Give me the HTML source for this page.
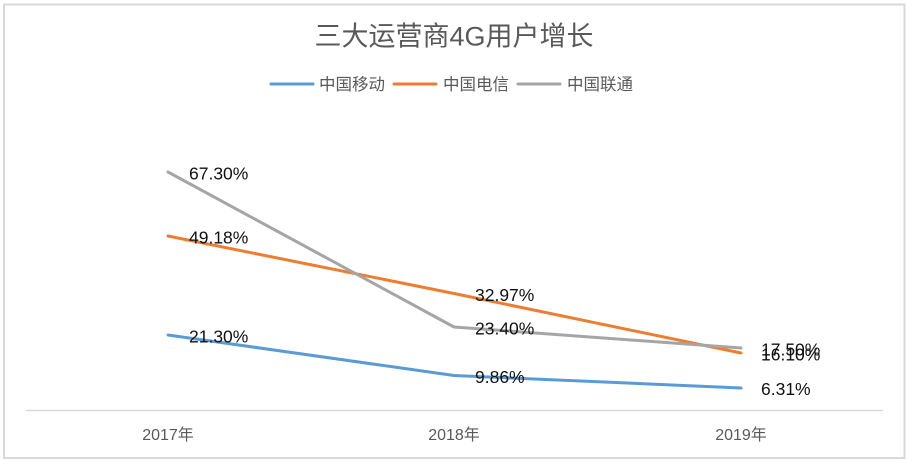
<!DOCTYPE html>
<html>
<head>
<meta charset="utf-8">
<style>
  html,body{margin:0;padding:0;background:#fff;}
  body{width:915px;height:467px;overflow:hidden;}
  svg{display:block;}
  text{font-family:"Liberation Sans","Noto Sans CJK SC",sans-serif;}
</style>
</head>
<body>
<svg width="915" height="467" viewBox="0 0 915 467" xmlns="http://www.w3.org/2000/svg">
  <rect x="0" y="0" width="915" height="467" fill="#fff"/>
  <!-- chart border -->
  <rect x="4" y="4.5" width="900.5" height="453.5" fill="none" stroke="#d9d9d9" stroke-width="2"/>

  <!-- title -->
  <text x="454" y="45.5" text-anchor="middle" font-size="27" fill="#595959">三大运营商4G用户增长</text>

  <!-- legend -->
  <line x1="271" y1="84" x2="313" y2="84" stroke="#5b9bd5" stroke-width="3" stroke-linecap="round"/>
  <text x="319" y="90" font-size="16.5" fill="#595959">中国移动</text>
  <line x1="394" y1="84" x2="436" y2="84" stroke="#ed7d31" stroke-width="3" stroke-linecap="round"/>
  <text x="443" y="90" font-size="16.5" fill="#595959">中国电信</text>
  <line x1="518" y1="84" x2="560" y2="84" stroke="#a5a5a5" stroke-width="3" stroke-linecap="round"/>
  <text x="567" y="90" font-size="16.5" fill="#595959">中国联通</text>

  <!-- axis -->
  <line x1="26" y1="410.5" x2="883" y2="410.5" stroke="#d9d9d9" stroke-width="1.5"/>
  <text x="168" y="440" text-anchor="middle" font-size="16" fill="#595959">2017年</text>
  <text x="454" y="440" text-anchor="middle" font-size="16" fill="#595959">2018年</text>
  <text x="741" y="440" text-anchor="middle" font-size="16" fill="#595959">2019年</text>

  <!-- series -->
  <polyline points="168,335 454,375.5 741,388" fill="none" stroke="#5b9bd5" stroke-width="3" stroke-linejoin="round" stroke-linecap="round"/>
  <polyline points="168,236 454,293.5 741,353" fill="none" stroke="#ed7d31" stroke-width="3" stroke-linejoin="round" stroke-linecap="round"/>
  <polyline points="168,172 454,327 741,348" fill="none" stroke="#a5a5a5" stroke-width="3" stroke-linejoin="round" stroke-linecap="round"/>

  <!-- data labels -->
  <g font-size="17.5" fill="#111">
    <text x="189" y="179.5">67.30%</text>
    <text x="189" y="243.5">49.18%</text>
    <text x="189" y="342.5">21.30%</text>
    <text x="475" y="301">32.97%</text>
    <text x="475" y="334.5">23.40%</text>
    <text x="475" y="383">9.86%</text>
    <text x="761" y="355.5">17.50%</text>
    <text x="761" y="360.5">16.10%</text>
    <text x="761" y="395">6.31%</text>
  </g>
</svg>
</body>
</html>
